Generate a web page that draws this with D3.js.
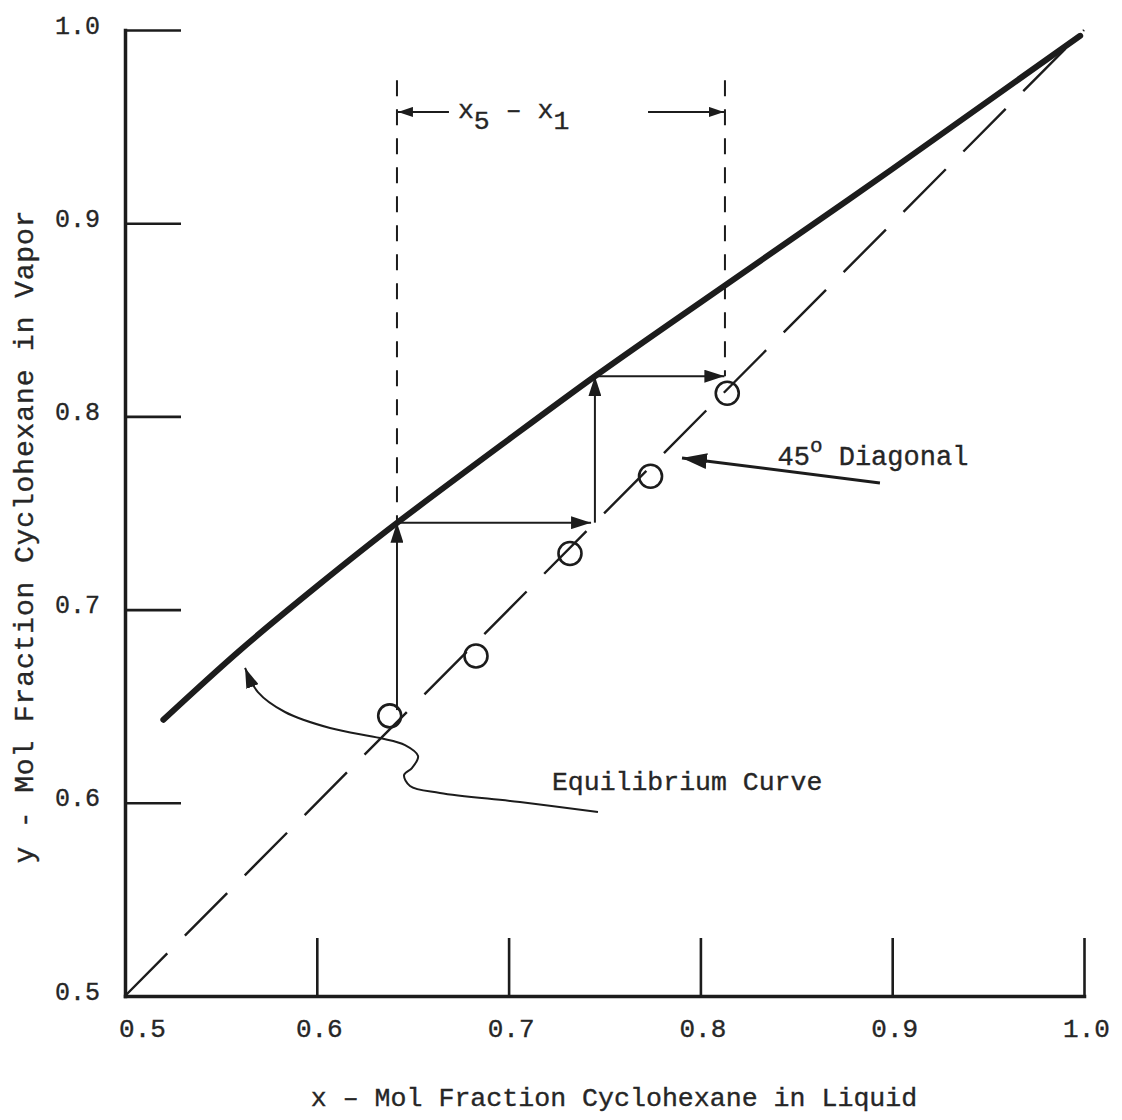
<!DOCTYPE html>
<html>
<head>
<meta charset="utf-8">
<script src="https://cdn.jsdelivr.net/npm/d3@7"></script>
<style>
  html, body { margin: 0; padding: 0; background: #ffffff; }
  svg { display: block; }
  text { font-family: "Liberation Mono", "DejaVu Sans Mono", monospace; fill: #262626; stroke: #262626; stroke-width: 0.35px; }
</style>
</head>
<body>
<svg id="chart" width="1122" height="1120"></svg>
<script>
// Axis ticks (mol fraction)
const tickValues = [0.5, 0.6, 0.7, 0.8, 0.9, 1.0];
const tickLabels = ["0.5", "0.6", "0.7", "0.8", "0.9", "1.0"];

// Vapor-liquid equilibrium curve, cyclohexane
const eqX = [0.520, 0.560, 0.600, 0.642, 0.700, 0.745, 0.800, 0.900, 0.998];
const eqY = [0.643, 0.679, 0.712, 0.745, 0.788, 0.8208, 0.859, 0.928, 0.997];

// Measured plate compositions (on the 45° diagonal)
const plateX = [0.638, 0.683, 0.732, 0.774, 0.814];
const plateY = [0.645, 0.676, 0.729, 0.769, 0.812];

// Stage-stepping construction: [xFrom, yFrom, xTo, yTo]
const stepSegments = [
  [0.6418, 0.648, 0.6418, 0.745],
  [0.6418, 0.745, 0.7430, 0.745],
  [0.7450, 0.745, 0.7450, 0.8208],
  [0.7450, 0.8208, 0.8125, 0.8208]
];

// x5 - x1 span markers
const spanX = [0.6418, 0.8128];
const spanTopY = 0.974;
const spanBottomY = [0.745, 0.8208];
const spanArrowY = 0.9576;
const spanArrows = [[0.6689, 0.6423], [0.7727, 0.8123]];

// Annotation pointers
const diagPointer = [[0.8936, 0.7655], [0.7904, 0.7785]];
const leaderX = [0.7466, 0.7059, 0.6642, 0.6486, 0.6455, 0.6496, 0.6528, 0.6460, 0.6330, 0.6069, 0.5834, 0.5693, 0.5626];
const leaderY = [0.5952, 0.6004, 0.6051, 0.6087, 0.6144, 0.6180, 0.6242, 0.6299, 0.6335, 0.6387, 0.6470, 0.6573, 0.6698];

const ink = "#1c1c1c";
const svg = d3.select("#chart");

const x = d3.scaleLinear().domain([0.5, 1.0]).range([125, 1084]);
const y = d3.scaleLinear().domain([0.5, 1.0]).range([996, 30]);

// Arrowhead markers
const defs = svg.append("defs");
function marker(id, len, half) {
  defs.append("marker")
    .attr("id", id)
    .attr("markerUnits", "userSpaceOnUse")
    .attr("viewBox", `0 ${-half} ${len} ${half * 2}`)
    .attr("refX", len).attr("refY", 0)
    .attr("markerWidth", len).attr("markerHeight", half * 2)
    .attr("orient", "auto-start-reverse")
    .append("path")
    .attr("d", `M0,${-half}L${len},0L0,${half}Z`)
    .attr("fill", ink);
}
marker("head-step", 20, 6.5);
marker("head-big", 25, 8);
marker("head-small", 15, 5);
marker("head-leader", 20, 6.5);

// Axes
const tickFmt = d => tickLabels[tickValues.indexOf(d)];
const yAxis = svg.append("g")
  .attr("transform", `translate(${x(0.5)},0)`)
  .call(d3.axisLeft(y).tickValues(tickValues).tickFormat(tickFmt)
    .tickSize(-56).tickSizeOuter(0).tickPadding(25));
const xAxis = svg.append("g")
  .attr("transform", `translate(0,${y(0.5)})`)
  .call(d3.axisBottom(x).tickValues(tickValues).tickFormat(tickFmt)
    .tickSize(-58).tickSizeOuter(0).tickPadding(23));

[yAxis, xAxis].forEach(g => {
  g.select(".domain").attr("stroke", ink).attr("stroke-width", 3.5).attr("stroke-linecap", "square");
  g.selectAll(".tick line").attr("stroke", ink).attr("stroke-width", 2.6);
  g.selectAll(".tick text").attr("font-size", 25).attr("font-family", null).attr("fill", null);
});
yAxis.selectAll(".tick text").attr("dy", "0.12em");
xAxis.selectAll(".tick text").attr("font-size", 26)
  .attr("dx", d => d === 0.5 ? 17 : 2);

// Axis titles
svg.append("text")
  .attr("x", 614).attr("y", 1106)
  .attr("text-anchor", "middle")
  .attr("font-size", 26.6)
  .text("x \u2013 Mol Fraction Cyclohexane in Liquid");
svg.append("text")
  .attr("transform", "translate(33,537) rotate(-90)")
  .attr("text-anchor", "middle")
  .attr("font-size", 28)
  .attr("textLength", 653).attr("lengthAdjust", "spacing")
  .text("y - Mol Fraction Cyclohexane in Vapor");

// 45° diagonal
svg.append("path")
  .attr("d", d3.line().x(d => x(d)).y(d => y(d))([0.5, 1.0]))
  .attr("fill", "none").attr("stroke", ink).attr("stroke-width", 2.4)
  .attr("stroke-dasharray", "60,25");

// Equilibrium curve
const eqData = eqX.map((v, i) => [v, eqY[i]]);
svg.append("path")
  .attr("d", d3.line().x(d => x(d[0])).y(d => y(d[1])).curve(d3.curveNatural)(eqData))
  .attr("fill", "none").attr("stroke", ink).attr("stroke-width", 6)
  .attr("stroke-linecap", "round");

// Span dashed verticals
spanX.forEach((sx, i) => {
  svg.append("line")
    .attr("x1", x(sx)).attr("x2", x(sx))
    .attr("y1", y(spanTopY)).attr("y2", y(spanBottomY[i]))
    .attr("stroke", ink).attr("stroke-width", 2)
    .attr("stroke-dasharray", "16,13");
});

// Span arrows
spanArrows.forEach(a => {
  svg.append("line")
    .attr("x1", x(a[0])).attr("x2", x(a[1]))
    .attr("y1", y(spanArrowY)).attr("y2", y(spanArrowY))
    .attr("stroke", ink).attr("stroke-width", 2)
    .attr("marker-end", "url(#head-small)");
});

// Span label x5 - x1
const spanLabel = svg.append("text")
  .attr("x", x(0.6736)).attr("y", y(0.9545))
  .attr("font-size", 26.5);
spanLabel.append("tspan").text("x");
spanLabel.append("tspan").attr("dy", 11).text("5");
spanLabel.append("tspan").attr("dy", -11).text(" \u2013 x");
spanLabel.append("tspan").attr("dy", 11).text("1");

// Stage steps
stepSegments.forEach(s => {
  svg.append("line")
    .attr("x1", x(s[0])).attr("y1", y(s[1]))
    .attr("x2", x(s[2])).attr("y2", y(s[3]))
    .attr("stroke", ink).attr("stroke-width", 2)
    .attr("marker-end", "url(#head-step)");
});

// Plate compositions
svg.append("g").selectAll("circle")
  .data(plateX.map((v, i) => [v, plateY[i]]))
  .join("circle")
  .attr("cx", d => x(d[0])).attr("cy", d => y(d[1]))
  .attr("r", 11.5)
  .attr("fill", "none").attr("stroke", ink).attr("stroke-width", 2.6);

// 45° Diagonal label with pointer
svg.append("line")
  .attr("x1", x(diagPointer[0][0])).attr("y1", y(diagPointer[0][1]))
  .attr("x2", x(diagPointer[1][0])).attr("y2", y(diagPointer[1][1]))
  .attr("stroke", ink).attr("stroke-width", 3)
  .attr("marker-end", "url(#head-big)");
const diagLabel = svg.append("text")
  .attr("x", x(0.8402)).attr("y", y(0.7748))
  .attr("font-size", 27);
diagLabel.append("tspan").text("45");
diagLabel.append("tspan").attr("dy", -13).attr("font-size", 21).text("o");
diagLabel.append("tspan").attr("dy", 13).text(" Diagonal");

// Equilibrium Curve label with wavy leader
const leaderData = leaderX.map((v, i) => [v, leaderY[i]]);
svg.append("path")
  .attr("d", d3.line().x(d => x(d[0])).y(d => y(d[1])).curve(d3.curveCatmullRom.alpha(0.5))(leaderData))
  .attr("fill", "none").attr("stroke", ink).attr("stroke-width", 2)
  .attr("marker-end", "url(#head-leader)");
svg.append("text")
  .attr("x", x(0.7226)).attr("y", y(0.6066))
  .attr("font-size", 26.5)
  .text("Equilibrium Curve");
</script>
</body>
</html>
